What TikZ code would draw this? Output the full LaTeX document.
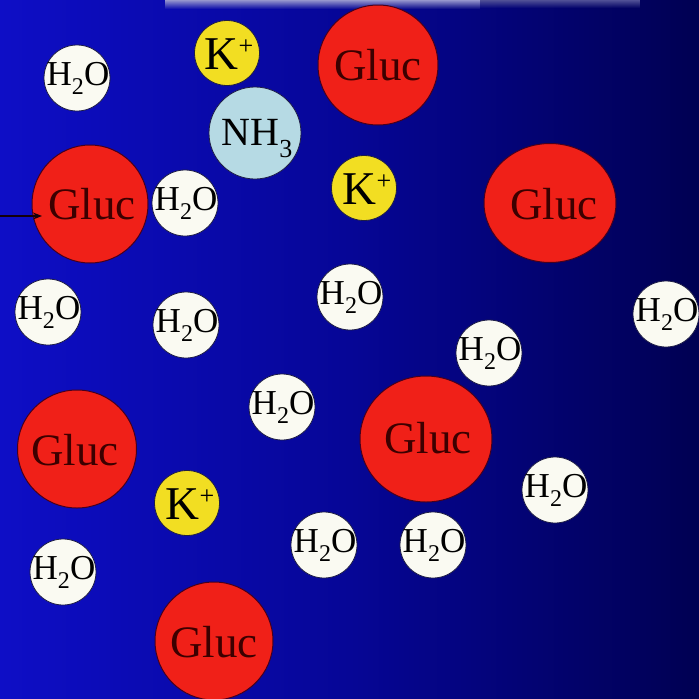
\documentclass[tikz,border=0pt]{standalone}
\usepackage{fontspec}
\setmainfont{Liberation Serif}
\usetikzlibrary{arrows.meta,shapes.geometric,fadings}
\definecolor{bgl}{RGB}{14,14,198}
\definecolor{bgm}{RGB}{6,6,150}
\definecolor{bgr}{RGB}{0,0,82}
\definecolor{stripc}{RGB}{150,150,205}
\definecolor{stripd}{RGB}{80,80,150}
\definecolor{glucc}{RGB}{240,32,24}
\definecolor{glucline}{RGB}{70,0,30}
\definecolor{gluctext}{RGB}{60,0,0}
\definecolor{waterc}{RGB}{250,250,242}
\definecolor{potc}{RGB}{242,222,34}
\definecolor{ammc}{RGB}{182,218,228}
\definecolor{molline}{RGB}{30,30,70}
\definecolor{arrowc}{RGB}{20,0,10}
\begin{document}
\begin{tikzpicture}[x=1pt,y=-1pt,
  mol/.style={circle, inner sep=0pt, draw=molline, line width=0.8pt},
  water/.style={mol, fill=waterc, minimum size=66pt},
  potas/.style={mol, fill=potc, minimum size=65pt},
  ammon/.style={mol, fill=ammc, minimum size=92pt},
  gluc/.style={ellipse, inner sep=0pt, fill=glucc, draw=glucline, line width=1pt},
  txt/.style={anchor=base, inner sep=0pt, text=black},
  wtxt/.style={txt, font=\fontsize{35}{40}\selectfont},
  gtxt/.style={txt, font=\fontsize{45}{50}\selectfont, text=gluctext},
  ktxt/.style={txt, font=\fontsize{47}{52}\selectfont},
  ntxt/.style={txt, font=\fontsize{40}{45}\selectfont},
  arr/.style={draw=arrowc, line width=1.2pt, -{Stealth[length=9pt,width=7pt]}}
]
\useasboundingbox (0,0) rectangle (699,699);
\shade[left color=bgl, right color=bgr, middle color=bgm] (0,0) rectangle (699,699);
\fill[stripc, path fading=south] (165,0) rectangle (480,9);
\fill[stripd, path fading=south] (480,0) rectangle (640,8);

% glucose
\node[gluc, minimum width=120pt, minimum height=120pt] (g1) at (378,65) {};
\node[gluc, minimum width=116pt, minimum height=118pt] (g2) at (90,204) {};
\node[gluc, minimum width=132pt, minimum height=119pt] (g3) at (550,203) {};
\node[gluc, minimum width=119pt, minimum height=118pt] (g4) at (77,449) {};
\node[gluc, minimum width=132pt, minimum height=126pt] (g5) at (426,439) {};
\node[gluc, minimum width=118pt, minimum height=118pt] (g6) at (214,641) {};
\node[gtxt] (g1t) at (378,80) {Gluc};
\node[gtxt] (g2t) at (92,219) {Gluc};
\node[gtxt] (g3t) at (554,219) {Gluc};
\node[gtxt] (g4t) at (75,465) {Gluc};
\node[gtxt] (g5t) at (428,453) {Gluc};
\node[gtxt] (g6t) at (214,657) {Gluc};

% potassium
\node[potas] (k1) at (227,53) {};
\node[potas] (k2) at (364,188) {};
\node[potas] (k3) at (187,503) {};
\node[ktxt] (k1t) at (229,69) {K\raisebox{15pt}{\fontsize{26}{26}\selectfont +}};
\node[ktxt] (k2t) at (367,204) {K\raisebox{15pt}{\fontsize{26}{26}\selectfont +}};
\node[ktxt] (k3t) at (190,519) {K\raisebox{15pt}{\fontsize{26}{26}\selectfont +}};

% ammonia
\node[ammon] (n1) at (255,133) {};
\node[ntxt] (n1t) at (257,145) {NH\raisebox{-12pt}{\fontsize{26}{26}\selectfont 3}};

% water
\node[water] (w1) at (77,78) {};
\node[water] (w2) at (185,203) {};
\node[water] (w3) at (48,312) {};
\node[water] (w4) at (186,325) {};
\node[water] (w5) at (350,297) {};
\node[water] (w6) at (666,314) {};
\node[water] (w7) at (489,353) {};
\node[water] (w8) at (282,407) {};
\node[water] (w9) at (555,490) {};
\node[water] (w10) at (324,545) {};
\node[water] (w11) at (433,545) {};
\node[water] (w12) at (63,572) {};
\foreach \w/\x/\y in {w1/77/78, w2/185/203, w3/48/312, w4/186/325, w5/350/297, w6/666/314, w7/489/353, w8/282/407, w9/555/490, w10/324/545, w11/433/545, w12/63/572}
  \node[wtxt] (\w t) at (\x+1,\y+7) {H\raisebox{-9pt}{\fontsize{24}{24}\selectfont 2}O};

% arrow
\coordinate (arrA) at (0,216);
\coordinate (arrB) at (42,216);
\draw[arr] (arrA) -- (arrB);
\end{tikzpicture}
\end{document}
